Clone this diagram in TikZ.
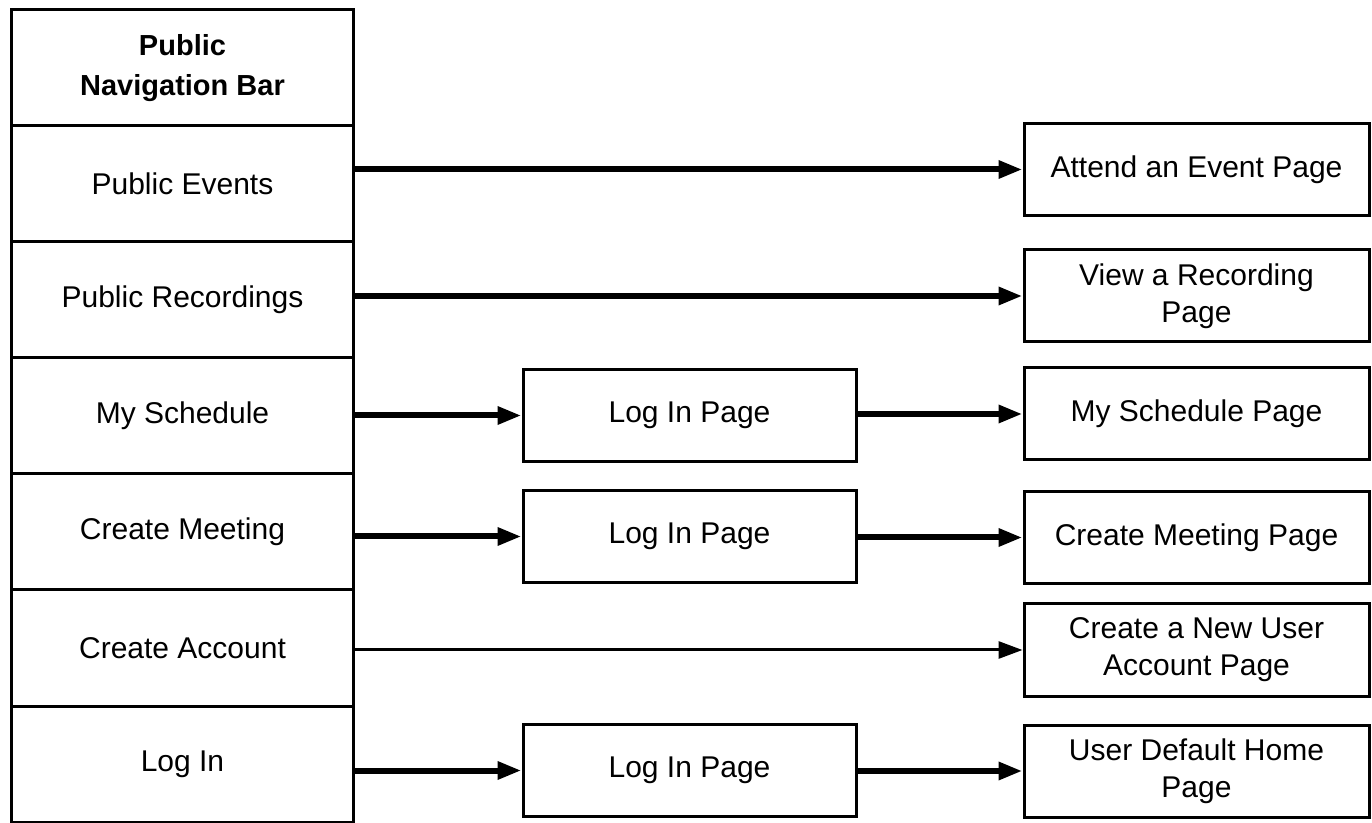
\documentclass[tikz,border=0pt]{standalone}
\usepackage{fontspec}
\setmainfont{Liberation Sans}
\usetikzlibrary{arrows.meta}
\begin{document}
\begin{tikzpicture}[x=0.5pt,y=-0.5pt,
  txt/.style={font=\fontsize{15}{18.5}\selectfont},
  cell/.style={draw,line width=1.5pt,minimum width=171pt,minimum height=58pt,inner sep=0pt,align=center,txt},
  pagebox/.style={draw,line width=1.5pt,minimum width=172.5pt,minimum height=46pt,inner sep=0pt,align=center,txt},
  loginbox/.style={pagebox,minimum width=166.5pt},
  arrowtip/.style={-{Triangle[length=12pt,width=8.5pt]}},
  thickarrow/.style={line width=3pt,arrowtip},
  thinarrow/.style={line width=1.5pt,arrowtip}
]
\useasboundingbox (0,0) rectangle (1372,823);

% left column
\node[cell,font=\bfseries\fontsize{14.5}{20}\selectfont] (hdr) at (182.5,68) {Public\\Navigation Bar};
\node[cell] (ev)  at (182.5,184) {Public Events};
\node[cell] (rec) at (182.5,300) {Public Recordings};
\node[cell] (sch) at (182.5,416) {My Schedule};
\node[cell] (cm)  at (182.5,532) {Create Meeting};
\node[cell] (ca)  at (182.5,648) {Create Account};
\node[cell] (li)  at (182.5,764) {Log In};

% middle log in pages
\node[loginbox] (lp1) at (689.5,415.5) {Log In Page};
\node[loginbox] (lp2) at (689.5,536.5) {Log In Page};
\node[loginbox] (lp3) at (689.5,770.5) {Log In Page};

% right pages
\node[pagebox] (att)  at (1196.5,169.5) {Attend an Event Page};
\node[pagebox] (view) at (1196.5,296)   {View a Recording\\Page};
\node[pagebox] (msp)  at (1196.5,414)   {My Schedule Page};
\node[pagebox] (cmp)  at (1196.5,537.5) {Create Meeting Page};
\node[pagebox] (nua)  at (1196.5,650)   {Create a New User\\Account Page};
\node[pagebox] (udh)  at (1196.5,771)   {User Default Home\\Page};

% connectors
\draw[thickarrow] (ev.east |- att.west) -- (att.west);
\draw[thickarrow] (rec.east |- view.west) -- (view.west);
\draw[thickarrow] (sch.east |- lp1.west) -- (lp1.west);
\draw[thickarrow] (lp1.east |- msp.west) -- (msp.west);
\draw[thickarrow] (cm.east |- lp2.west) -- (lp2.west);
\draw[thickarrow] (lp2.east |- cmp.west) -- (cmp.west);
\draw[thinarrow] (ca.east |- nua.west) -- (nua.west);
\draw[thickarrow] (li.east |- lp3.west) -- (lp3.west);
\draw[thickarrow] (lp3.east |- udh.west) -- (udh.west);
\end{tikzpicture}
\end{document}
